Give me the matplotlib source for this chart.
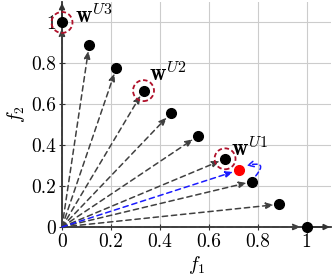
import numpy as np
import matplotlib.pyplot as plt
from matplotlib.patches import Ellipse, FancyArrowPatch

plt.rcParams['font.family'] = 'cmr10'
plt.rcParams['mathtext.fontset'] = 'cm'
plt.rcParams['axes.formatter.use_mathtext'] = True

# reference points on the simplex
w1 = [0, 1/9, 2/9, 3/9, 4/9, 5/9, 6/9, 7/9, 8/9, 1]
w2 = [1, 8/9, 7/9, 6/9, 5/9, 4/9, 3/9, 2/9, 1/9, 0]
# highlighted utopian points
u_idx = [6, 3, 0]
u_lab = [r'$\mathbf{w}^{U1}$', r'$\mathbf{w}^{U2}$', r'$\mathbf{w}^{U3}$']
# solution point
sol = (0.722, 0.278)
ticks = [0, 0.2, 0.4, 0.6, 0.8, 1]
tick_lab = ['0', '0.2', '0.4', '0.6', '0.8', '1']

fig = plt.figure(figsize=(3.32, 2.76), dpi=100)
ax = fig.add_axes([62/332, 49/276, 269/332, 225/276])
ax.set_xlim(0, 1.1)
ax.set_ylim(0, 1.1)
ax.grid(True, color='#cccccc', lw=0.8)
ax.set_axisbelow(True)
for s in ['top', 'right']:
    ax.spines[s].set_visible(False)
for s in ['left', 'bottom']:
    ax.spines[s].set_linewidth(1.3)
    ax.spines[s].set_color('#333333')
ax.set_xticks(ticks)
ax.set_xticklabels(tick_lab)
ax.set_yticks(ticks)
ax.set_yticklabels(tick_lab)
ax.tick_params(direction='inout', length=5, width=0.8, color='#333333',
               labelsize=14, pad=2)
ax.set_xlabel(r'$f_1$', fontsize=14, labelpad=2)
ax.set_ylabel(r'$f_2$', fontsize=14, labelpad=3)

# axis arrows
ax.annotate('', xy=(1.095, 0), xytext=(1.0, 0), annotation_clip=False,
            arrowprops=dict(arrowstyle='-|>', color='#333333', lw=1.3,
                            mutation_scale=8, shrinkA=0, shrinkB=0))
ax.annotate('', xy=(0, 1.095), xytext=(0, 1.0), annotation_clip=False,
            arrowprops=dict(arrowstyle='-|>', color='#333333', lw=1.3,
                            mutation_scale=8, shrinkA=0, shrinkB=0))

# dashed rays from origin
for x, y in zip(w1, w2):
    ax.annotate('', xy=(x, y), xytext=(0, 0),
                arrowprops=dict(arrowstyle='-|>,head_length=0.5,head_width=0.2',
                                color='#404040', lw=1.1,
                                ls=(0, (3.5, 2.5)), mutation_scale=9,
                                shrinkA=0, shrinkB=4))
ax.plot(w1, w2, 'o', color='black', ms=7, zorder=5, clip_on=False)

# blue path to solution
ax.annotate('', xy=sol, xytext=(0, 0),
            arrowprops=dict(arrowstyle='-|>,head_length=0.5,head_width=0.2',
                            color='#1a1aff', lw=1.1,
                            ls=(0, (3.5, 2.5)), mutation_scale=9,
                            shrinkA=0, shrinkB=4))
arc = FancyArrowPatch((0.785, 0.24), (0.755, 0.3),
                      connectionstyle='arc3,rad=1.6', arrowstyle='->',
                      color='#1a1aff', lw=1.1, ls=(0, (3, 2)),
                      mutation_scale=10, shrinkA=2, shrinkB=0)
ax.add_patch(arc)
ax.plot(*sol, 'o', color='red', ms=7, zorder=6)

# utopian circles and labels
lab_pos = [(0.69, 0.385), (0.355, 0.75), (0.055, 1.035)]
for i, lab, (lx, ly) in zip(u_idx, u_lab, lab_pos):
    e = Ellipse((w1[i], w2[i]), 21/245, 21/205, fill=False, clip_on=False,
                edgecolor='#b0102a', lw=1.3, ls=(0, (2.5, 1.5)), zorder=6)
    ax.add_patch(e)
    ax.text(lx, ly, lab, fontsize=16.5, ha='left', va='center')

fig.savefig('out.png', dpi=100)
